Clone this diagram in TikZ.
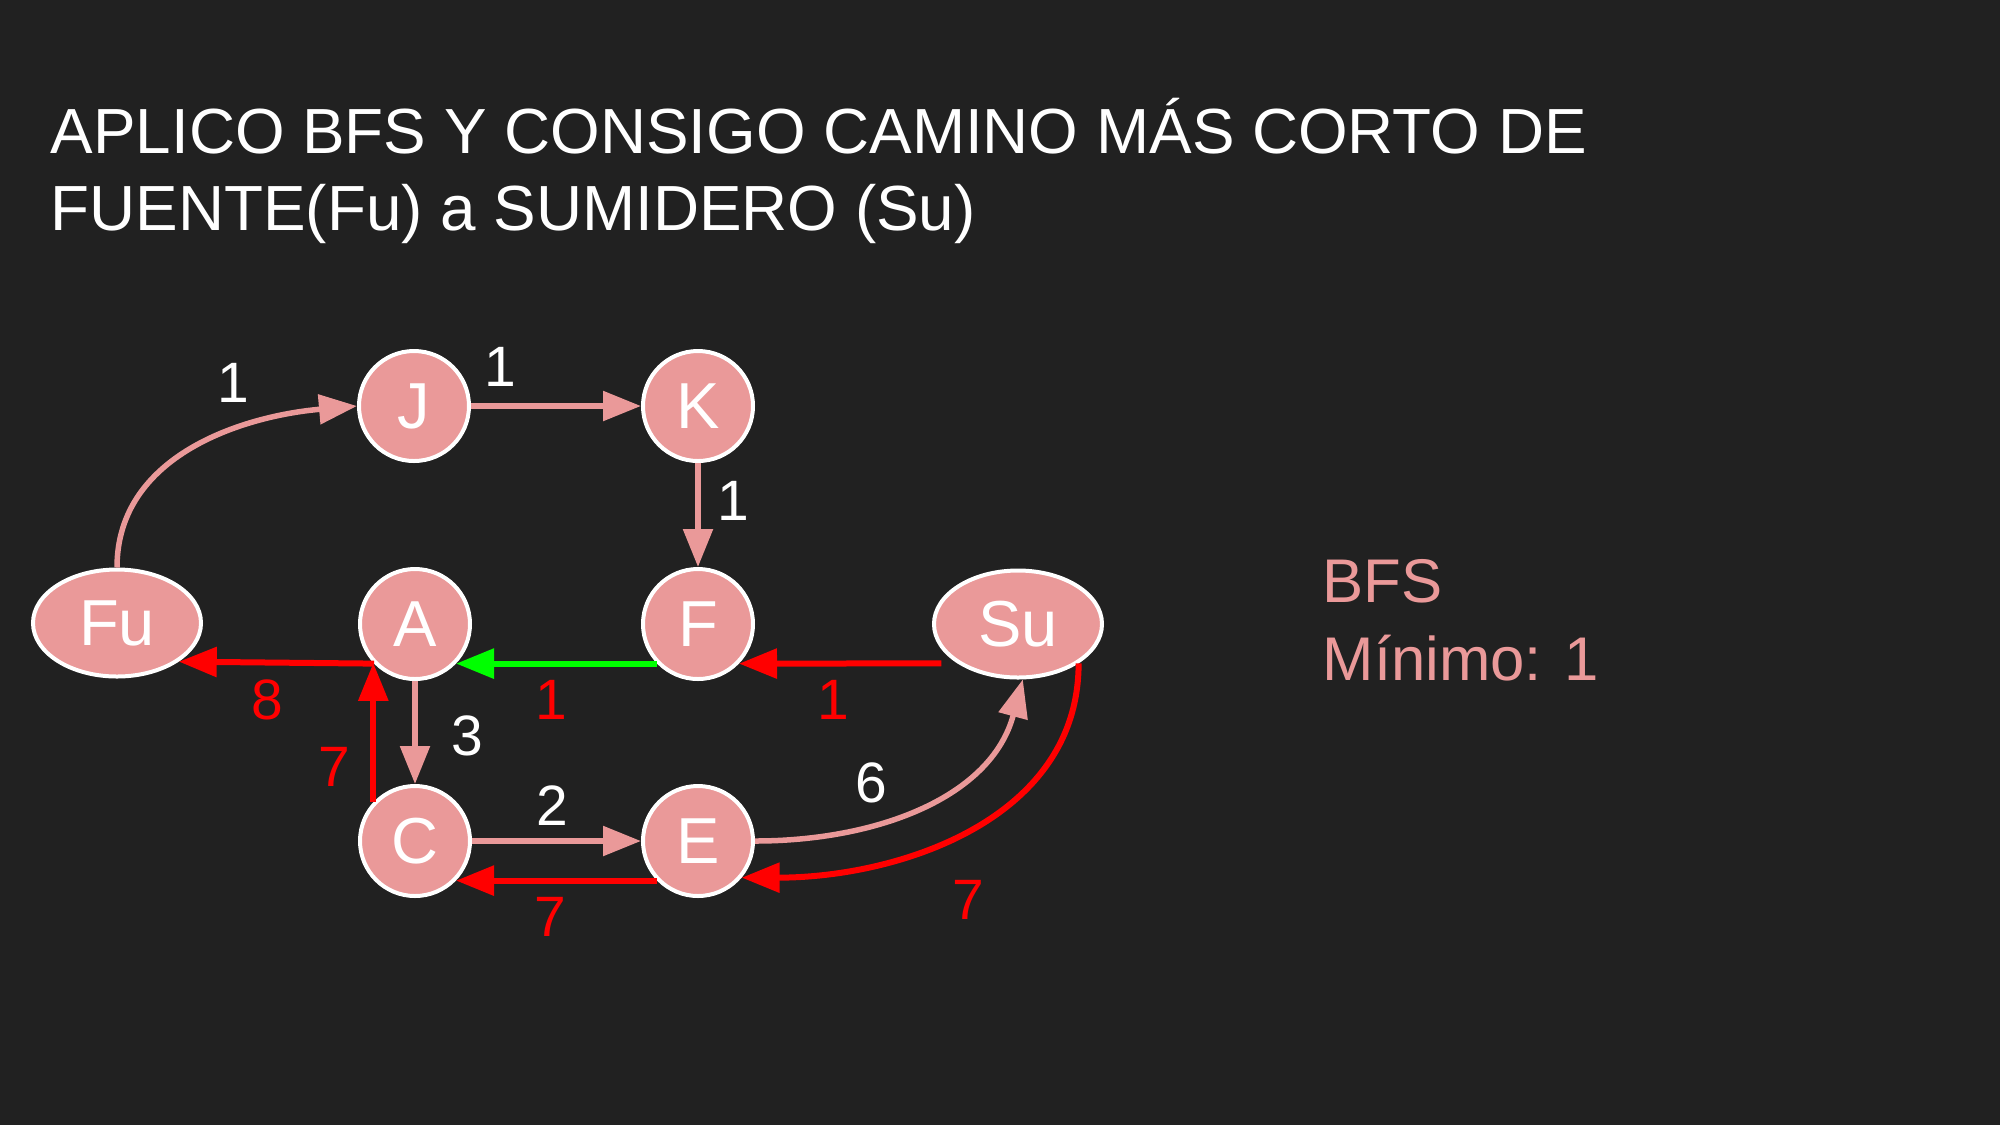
\documentclass[tikz,border=0pt]{standalone}
\usepackage{fontspec}
\setmainfont{Liberation Sans}
\usetikzlibrary{arrows.meta,shapes.geometric}

\definecolor{bgdark}{HTML}{212121}
\definecolor{nodepink}{HTML}{EA9999}
\definecolor{pathred}{HTML}{FF0000}
\definecolor{pathgreen}{HTML}{00FF00}

\begin{document}
\begin{tikzpicture}[>={Triangle[length=0.38cm,width=0.29cm]},
  vert/.style={circle, draw=white, line width=0.04cm, fill=nodepink, text=white,
    minimum size=1.10cm, inner sep=0pt, font=\fontsize{18.5}{22}\selectfont},
  vertwide/.style={vert, ellipse, minimum width=1.68cm, minimum height=1.07cm},
  fwd/.style={->, line width=0.055cm, nodepink},
  bwd/.style={->, line width=0.06cm, pathred},
  wlab/.style={text=white, font=\fontsize{16.2}{19}\selectfont},
  rlab/.style={text=pathred, font=\fontsize{16.2}{19}\selectfont},
  bigtext/.style={anchor=base west, inner sep=0pt, font=\fontsize{18.15}{21.9}\selectfont}]
  \useasboundingbox (0,0) rectangle (20,-11.25);
  \fill[bgdark] (0,0) rectangle (20,-11.25);

  % title
  \node[bigtext, text=white] (title1) at (0.50,-1.53) {APLICO BFS Y CONSIGO CAMINO MÁS CORTO DE};
  \node[bigtext, text=white] (title2) at (0.50,-2.30) {FUENTE(Fu) a SUMIDERO (Su)};

  % vertices
  \node[vertwide] (Fu) at (1.17,-6.23) {Fu};
  \node[vert] (J) at (4.14,-4.06) {J};
  \node[vert] (K) at (6.98,-4.06) {K};
  \node[vert] (A) at (4.15,-6.24) {A};
  \node[vert] (F) at (6.98,-6.24) {F};
  \node[vertwide] (Su) at (10.18,-6.24) {Su};
  \node[vert] (C) at (4.15,-8.41) {C};
  \node[vert] (E) at (6.98,-8.41) {E};

  % forward edges with capacities
  \draw[fwd] (Fu.north) to[out=90, in=185] (J.west);
  \draw[fwd] (J) -- (K);
  \draw[fwd] (K) -- (F);
  \draw[fwd] (A) -- (C);
  \draw[fwd] (C) -- (E);
  \draw[fwd] (E.east) to[out=0, in=-105] (Su.-85);
  \node[wlab] (cFuJ) at (2.33,-3.83) {1};
  \node[wlab] (cJK) at (5.00,-3.67) {1};
  \node[wlab] (cKF) at (7.33,-5.01) {1};
  \node[wlab] (cAC) at (4.67,-7.36) {3};
  \node[wlab] (cCE) at (5.52,-8.06) {2};
  \node[wlab] (cESu) at (8.71,-7.83) {6};

  % residual edges, shortest path found by BFS
  \draw[bwd, shorten <=0.16cm] (Su.213) -- (F.-44);
  \draw[->, line width=0.06cm, pathgreen] (F.224) -- (A.-44);
  \draw[bwd] (A.224) -- (Fu.-32);
  \draw[bwd] (C.137) -- (A.223);
  \draw[bwd] (E.224) -- (C.-44);
  \draw[bwd] (Su.-33) to[out=-90, in=0] (E.-40);
  \node[rlab] (rAFu) at (2.67,-7.00) {8};
  \node[rlab] (rFA) at (5.51,-7.00) {1};
  \node[rlab] (rSuF) at (8.33,-7.00) {1};
  \node[rlab] (rCA) at (3.34,-7.67) {7};
  \node[rlab] (rEC) at (5.50,-9.17) {7};
  \node[rlab] (rSuE) at (9.68,-9.00) {7};

  % result
  \node[bigtext, text=nodepink, font=\fontsize{17.55}{21}\selectfont] (bfs) at (13.22,-6.02) {BFS};
  \node[bigtext, text=nodepink, font=\fontsize{17.55}{21}\selectfont] (minimo) at (13.22,-6.80) {Mínimo: 1};
\end{tikzpicture}
\end{document}
